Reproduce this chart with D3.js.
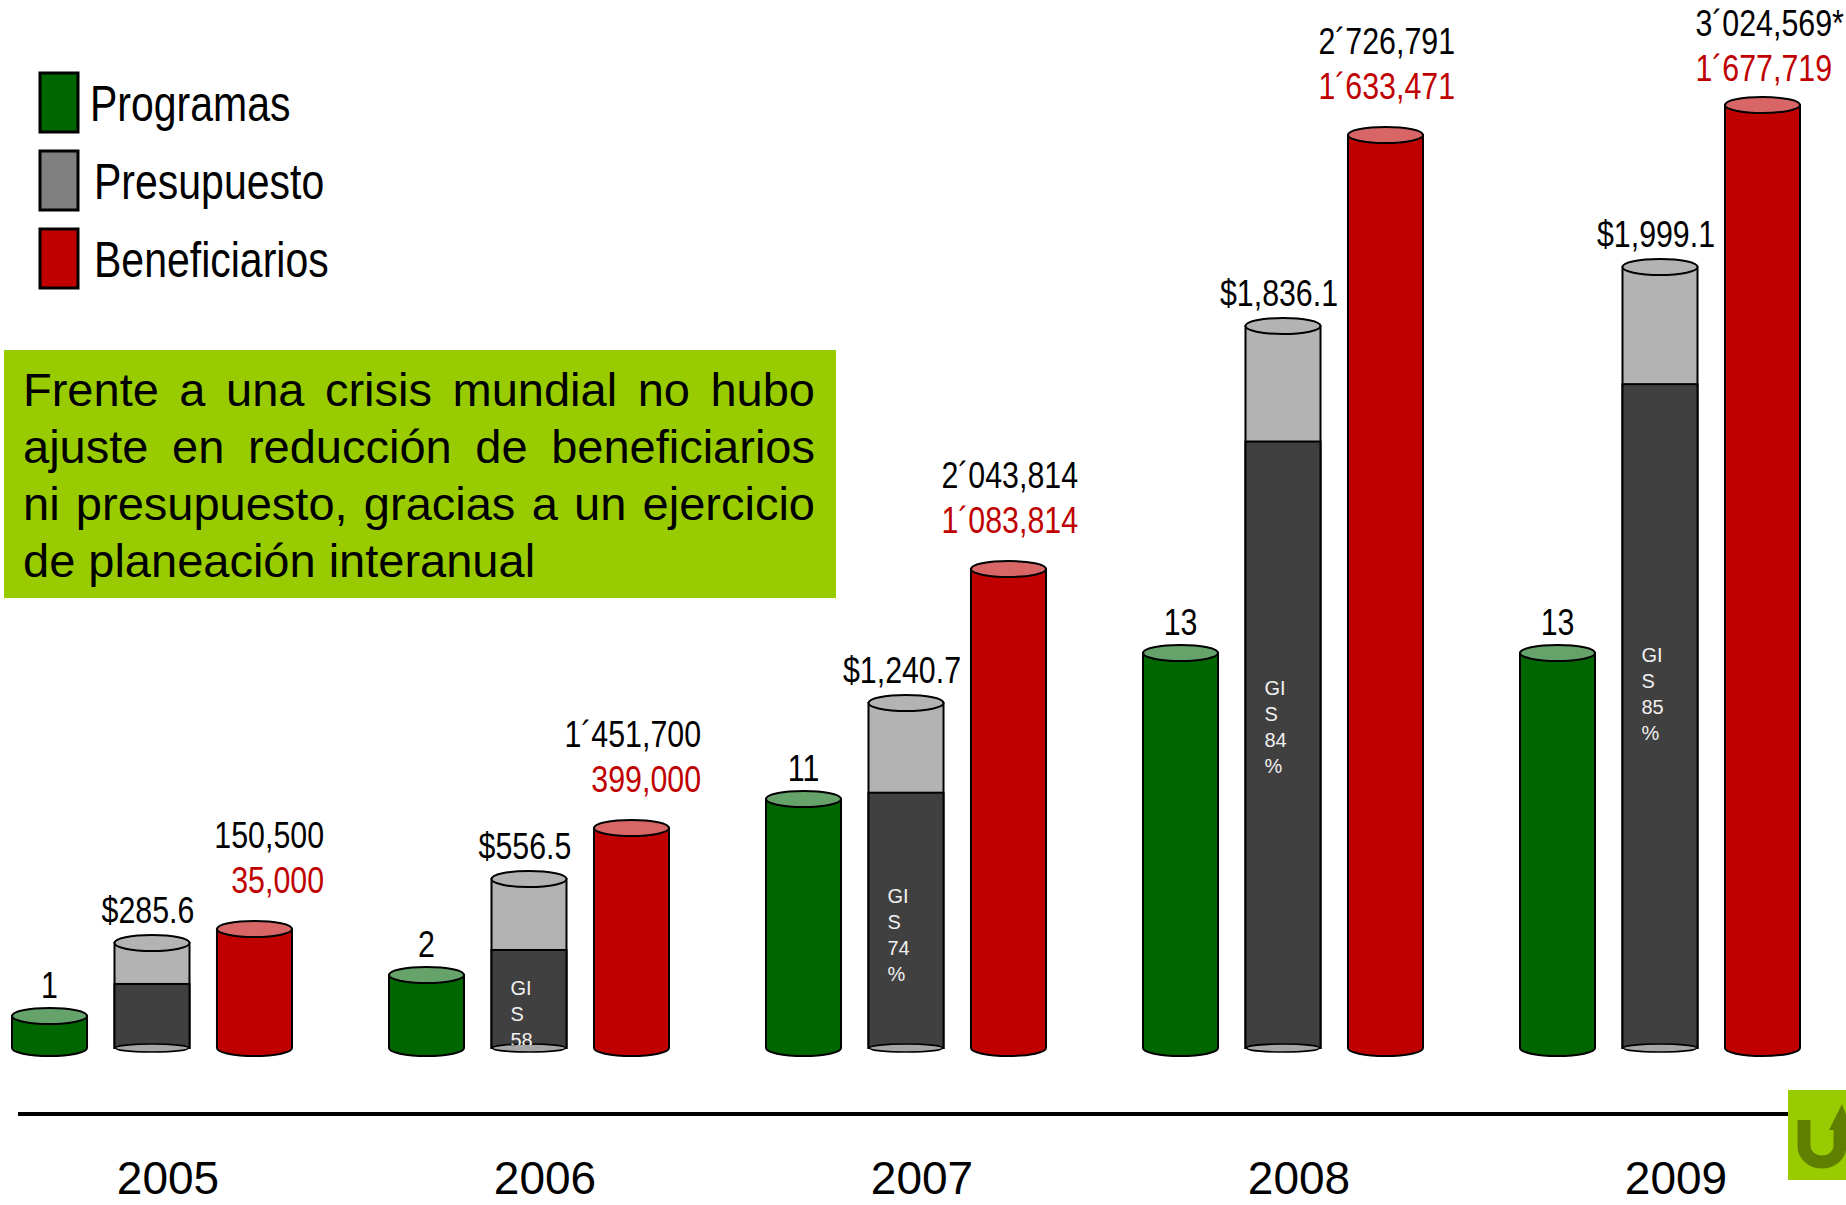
<!DOCTYPE html>
<meta charset="utf-8">
<style>
  body { margin: 0; background: #fff; }
  text { font-family: "Liberation Sans", Arial, sans-serif; }
</style>

<!-- Load d3.js -->
<script src="https://d3js.org/d3.v7.min.js"></script>

<div id="chart"></div>

<script>
// ---- data ----
const years = ["2005", "2006", "2007", "2008", "2009"];
const series = ["Programas", "Presupuesto", "Beneficiarios"];
const programas = [1, 2, 11, 13, 13];
const presupuesto = [285.6, 556.5, 1240.7, 1836.1, 1999.1];          // millones de pesos
const beneficiariosTotal = [150500, 1451700, 2043814, 2726791, 3024569];
const beneficiarios = [35000, 399000, 1083814, 1633471, 1677719];
const totalNote = ["", "", "", "", "*"];
const gisShare = [61, 58, 74, 84, 85];                                // % of presupuesto (dark part)
const gisShown = [false, true, true, true, true];

// the slide's cylinders are not drawn to scale with their labels,
// so the drawn height is read off the picture on a 0-100 level
const programasLevel = [3.2, 7.3, 24.9, 39.5, 39.5];
const presupuestoLevel = [10.5, 16.9, 34.5, 72.2, 78.1];
const beneficiariosLevel = [11.9, 22.0, 47.9, 91.3, 94.3];

const boxLines = [
  "Frente a una crisis mundial no hubo",
  "ajuste en reducción de beneficiarios",
  "ni presupuesto, gracias a un ejercicio",
  "de planeación interanual"
];

// ---- setup ----
const width = 1846, height = 1205;
const svg = d3.select("#chart").append("svg")
    .attr("width", width)
    .attr("height", height);

const base = 1048;
const y = d3.scaleLinear().domain([0, 100]).range([base, base - 1000]);
const x = d3.scalePoint().domain(years).range([152, 1660]);
const xs = d3.scaleBand().domain(series).range([-140, 140]).paddingInner(0.268);
const bw = xs.bandwidth();
const ry = 8;

const colors = {
  Programas: {body: "#006600", top: "#66a36a", legend: "#006600"},
  Presupuesto: {light: "#b3b3b3", dark: "#404040", legend: "#808080"},
  Beneficiarios: {body: "#c00000", top: "#d96666", legend: "#c00000"}
};
const red = "#c00000";

// condensed text helper (narrow face made from Liberation Sans)
function narrowText(g, tx, ty, str, size, anchor, fill) {
  return g.append("text")
    .attr("transform", "translate(" + tx + "," + ty + ") scale(0.82,1)")
    .attr("text-anchor", anchor)
    .attr("font-size", size)
    .attr("fill", fill || "#000")
    .text(str);
}

function roundCylinder(g, x0, yTop, c) {
  g.append("path")
    .attr("d", "M" + x0 + "," + yTop + " L" + x0 + "," + base +
      " A" + (bw / 2) + "," + ry + " 0 0 0 " + (x0 + bw) + "," + base +
      " L" + (x0 + bw) + "," + yTop + " Z")
    .attr("fill", c.body)
    .attr("stroke", "#000")
    .attr("stroke-width", 2);
  g.append("ellipse")
    .attr("cx", x0 + bw / 2).attr("cy", yTop)
    .attr("rx", bw / 2).attr("ry", ry)
    .attr("fill", c.top)
    .attr("stroke", "#000")
    .attr("stroke-width", 2);
}

function fmtMx(v) {
  const s = d3.format(",")(v);
  return v >= 1e6 ? s.replace(",", "´") : s;
}

const bars = svg.append("g");

years.forEach(function (yr, i) {
  const gx = x(yr);
  const g = bars.append("g");

  // Programas
  const xp = gx + xs("Programas");
  const tp = y(programasLevel[i]);
  roundCylinder(g, xp, tp, colors.Programas);
  narrowText(g, xp + bw / 2, tp - 18, programas[i], 37, "middle");

  // Presupuesto (light + GIS dark share)
  const xg = gx + xs("Presupuesto");
  const tg = y(presupuestoLevel[i]);
  const split = base - (base - tg) * gisShare[i] / 100;
  g.append("rect")
    .attr("x", xg).attr("y", tg).attr("width", bw).attr("height", base - tg)
    .attr("fill", colors.Presupuesto.light)
    .attr("stroke", "#000").attr("stroke-width", 2);
  g.append("rect")
    .attr("x", xg).attr("y", split).attr("width", bw).attr("height", base - split)
    .attr("fill", colors.Presupuesto.dark)
    .attr("stroke", "#000").attr("stroke-width", 2);
  g.append("ellipse")
    .attr("cx", xg + bw / 2).attr("cy", base)
    .attr("rx", bw / 2 - 1).attr("ry", 4)
    .attr("fill", "#a6a6a6")
    .attr("stroke", "#000").attr("stroke-width", 1.5);
  g.append("ellipse")
    .attr("cx", xg + bw / 2).attr("cy", tg)
    .attr("rx", bw / 2).attr("ry", ry)
    .attr("fill", colors.Presupuesto.light)
    .attr("stroke", "#000").attr("stroke-width", 2);
  narrowText(g, xg + bw / 2 - 4, tg - 20, "$" + d3.format(",.1f")(presupuesto[i]), 37, "middle");

  if (gisShown[i]) {
    const clipId = "clip" + yr;
    svg.append("clipPath").attr("id", clipId)
      .append("rect")
        .attr("x", xg).attr("y", split).attr("width", bw).attr("height", base - split - 3);
    const first = split + (base - split) * 0.41;
    const lines = ["GI", "S", gisShare[i], "%"];
    g.append("g").attr("clip-path", "url(#" + clipId + ")")
      .selectAll("text")
      .data(lines)
      .join("text")
        .attr("x", xg + 19)
        .attr("y", (d, k) => first + k * 26)
        .attr("dominant-baseline", "middle")
        .attr("font-size", 20)
        .attr("fill", "#f0f0f0")
        .text(d => d);
  }

  // Beneficiarios
  const xr = gx + xs("Beneficiarios");
  const tr = y(beneficiariosLevel[i]);
  roundCylinder(g, xr, tr, colors.Beneficiarios);
  const second = Math.max(tr - 36, 81);
  const ax = xr + bw + 32;
  narrowText(g, ax, second - 45, fmtMx(beneficiariosTotal[i]), 37, "end");
  if (totalNote[i]) narrowText(g, ax, second - 45, totalNote[i], 37, "start");
  narrowText(g, ax, second, fmtMx(beneficiarios[i]), 37, "end", red);
});

// ---- axis line + year labels ----
svg.append("line")
  .attr("x1", 18).attr("x2", 1790)
  .attr("y1", 1114).attr("y2", 1114)
  .attr("stroke", "#000").attr("stroke-width", 4);

svg.append("g")
  .selectAll("text")
  .data(years)
  .join("text")
    .attr("x", d => x(d) + 16)
    .attr("y", 1194)
    .attr("text-anchor", "middle")
    .attr("font-size", 46)
    .text(d => d);

// ---- legend ----
const legend = svg.append("g");
series.forEach(function (s, i) {
  const ly = 73 + i * 78;
  legend.append("rect")
    .attr("x", 40).attr("y", ly).attr("width", 38).attr("height", 59)
    .attr("fill", colors[s].legend)
    .attr("stroke", "#000").attr("stroke-width", 3);
  narrowText(legend, i === 0 ? 90 : 94, ly + 48, s, 50, "start");
});

// ---- message box (justified) ----
svg.append("rect")
  .attr("x", 4).attr("y", 350).attr("width", 832).attr("height", 248)
  .attr("fill", "#99cc00");

const boxG = svg.append("g").attr("font-size", 47);
const left = 23, right = 815;
boxLines.forEach(function (line, i) {
  const by = 406 + i * 57;
  const words = line.split(" ");
  const nodes = words.map(w => boxG.append("text").attr("y", by).text(w));
  const widths = nodes.map(n => n.node().getComputedTextLength());
  const total = d3.sum(widths);
  const last = i === boxLines.length - 1;
  const gap = last ? 13 : (right - left - total) / (words.length - 1);
  let cx = left;
  nodes.forEach(function (n, k) {
    n.attr("x", cx);
    cx += widths[k] + gap;
  });
});

// ---- logo corner ----
const logo = svg.append("g");
logo.append("rect")
  .attr("x", 1788).attr("y", 1090).attr("width", 60).attr("height", 90)
  .attr("fill", "#99cc00");
logo.append("path")
  .attr("d", "M1804,1120 L1804,1146 A18,16 0 0 0 1840,1146 L1840,1126")
  .attr("fill", "none").attr("stroke", "#5f7f00").attr("stroke-width", 13);
logo.append("path")
  .attr("d", "M1829,1130 L1842,1104 L1852,1130 Z")
  .attr("fill", "#5f7f00");
</script>
